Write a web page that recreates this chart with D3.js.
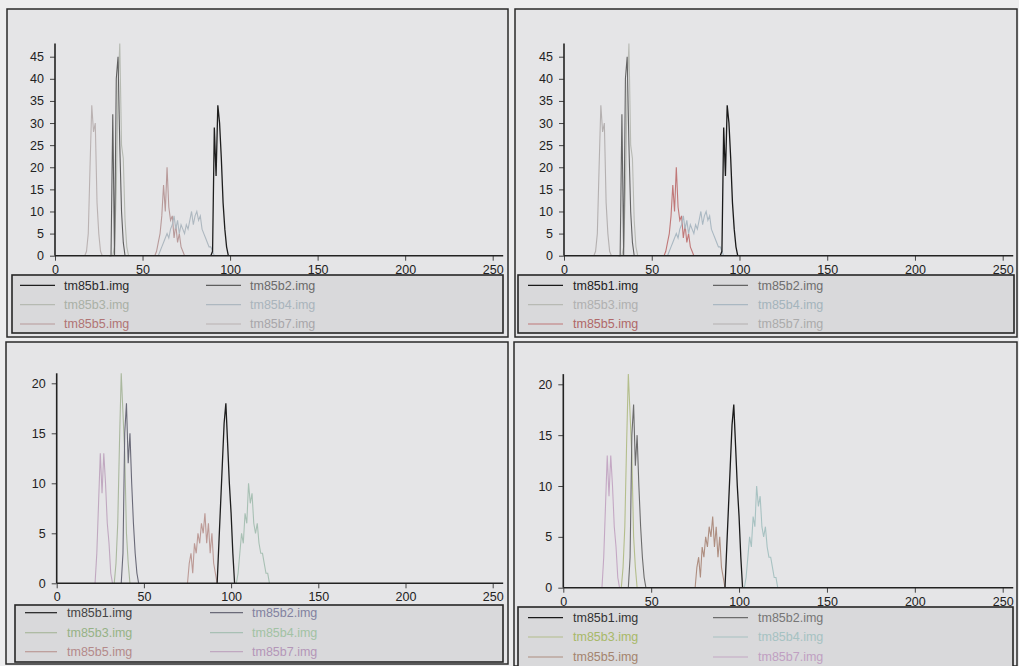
<!DOCTYPE html>
<html><head><meta charset="utf-8">
<script src="https://cdn.jsdelivr.net/npm/d3@7"></script>
<style>
html,body{margin:0;padding:0;background:#ededee;}
svg{display:block;}
text{font-family:"Liberation Sans",Arial,sans-serif;}
</style></head>
<body><svg id="c" width="1019" height="666"></svg>
<script>
// ---------- data ----------
const seriesNames = ["tm85b1.img","tm85b2.img","tm85b3.img","tm85b4.img","tm85b5.img","tm85b7.img"];
const xTicks = [0,50,100,150,200,250];
const yTicksTop = [0,5,10,15,20,25,30,35,40,45];
const yTicksBottom = [0,5,10,15,20];

// top pair of histograms: first bin value and counts
const topStarts = [89, 31, 33, 59, 57, 17];
const topB1 = [0,1,29,18,34,30,22,12,6,2,0];
const topB2 = [0,0,32,0,40,45,25,10,3,0];
const topB3 = [0,2,15,38,48,25,22,8,2,0];
const topB4 = [0,1,2,3,4,5,4,6,7,9,6,8,5,7,6,5,7,6,8,10,7,9,10,8,9,6,5,4,3,2,2,1,0];
const topB5 = [0,1,3,5,9,16,10,20,11,8,9,4,7,3,5,2,1,0];
const topB7 = [0,1,5,20,34,28,30,12,5,1,0];

// bottom pair of histograms
const botStarts = [92, 37, 33, 103, 75, 22];
const botB1 = [0,4,8,12,16,18,14,10,7,3,0];
const botB2 = [0,3,15,18,12,15,10,6,3,1,0];
const botB3 = [0,2,6,14,21,17,13,5,2,0];
const botB4 = [0,1,3,5,4,7,6,10,8,9,6,5,6,4,3,3,2,1,1,0];
const botB5 = [0,2,3,1,4,3,5,4,6,5,7,4,6,3,5,2,1,0];
const botB7 = [0,3,8,13,9,13,10,6,4,1,0];

const topValues = [topB1, topB2, topB3, topB4, topB5, topB7];
const botValues = [botB1, botB2, botB3, botB4, botB5, botB7];

// ---------- layout / style ----------
const panels = [
  {box:[7,9,501,328], x0:55, x250:492.7, y0:255.7, yRef:56.7, yRefV:45, yMax:48, yTicks:yTicksTop,
   starts:topStarts, values:topValues, leg:[12,275,491,58], legRows:[10.3,29.7,49], legCols:[[8,43,52],[194,229,238]],
   line:["#1e1e1e","#5e5e5e","#b6bab2","#aeb8c0","#b89a9a","#bab2b2"],
   txt:["#2a2a2a","#6a6a6a","#a9b0a6","#a9b4bc","#b07474","#a8a6aa"]},
  {box:[515,9,502,328], x0:564, x250:1002.7, y0:255.7, yRef:56.7, yRefV:45, yMax:48, yTicks:yTicksTop,
   starts:topStarts, values:topValues, leg:[518,275,496,58], legRows:[10.3,29.7,49], legCols:[[10,45,55],[195,230,240]],
   line:["#1a1a1a","#646464","#b8bab4","#aab8c2","#c07878","#b4b0b0"],
   txt:["#222222","#6e6e6e","#b0b0b0","#a4b4bc","#b06868","#ababab"]},
  {box:[6,342,502,322], x0:56.7, x250:492.7, y0:583.3, yRef:383.3, yRefV:20, yMax:21, yTicks:yTicksBottom,
   starts:botStarts, values:botValues, leg:[15,605,488,57], legRows:[7.7,27.7,46.7], legCols:[[10,42,52],[195,228,237]],
   line:["#1e1e1e","#6a6a78","#aab89e","#a8c0b4","#bc9a96","#c0a8c0"],
   txt:["#444444","#8282a0","#96b286","#a2c2a4","#b48a8a","#b496b8"]},
  {box:[514,342,503,324], x0:563.3, x250:1002.7, y0:587.7, yRef:384.3, yRefV:20, yMax:21, yTicks:yTicksBottom,
   starts:botStarts, values:botValues, leg:[518,607,495,60], legRows:[10.6,30,50], legCols:[[10,45,55],[195,230,240]],
   line:["#1a1a1a","#6c6c6c","#b4be8c","#a8c2c2","#ae8e80","#c4a8c4"],
   txt:["#333333","#767676","#a8b868","#a6c2c2","#a4846e","#c0a0c2"]}
];

const svg = d3.select("#c");
svg.append("rect").attr("width",1019).attr("height",666).attr("fill","#ededee");

panels.forEach(p => {
  const g = svg.append("g");
  g.append("rect").attr("x",p.box[0]).attr("y",p.box[1]).attr("width",p.box[2]).attr("height",p.box[3])
    .attr("fill","#e5e5e7").attr("stroke","#2a2a2a").attr("stroke-width",1.5);

  const x = d3.scaleLinear().domain([0,250]).range([p.x0,p.x250]);
  const y = d3.scaleLinear().domain([0,p.yRefV]).range([p.y0,p.yRef]);

  // series
  const lineGen = d3.line().x(d=>x(d[0])).y(d=>y(d[1]));
  const order = [5,4,3,2,1,0];
  order.forEach(i => {
    const pts = p.values[i].map((v,k)=>[p.starts[i]+k, v]);
    g.append("path").attr("d",lineGen(pts)).attr("fill","none")
      .attr("stroke",p.line[i]).attr("stroke-width",i===0?1.3:1.1);
  });

  // axes
  const xAxis = d3.axisBottom(x).tickValues(xTicks).tickSize(5).tickPadding(4).tickFormat(d3.format("d"));
  const xa = g.append("g").attr("transform",`translate(0,${p.y0})`).call(xAxis);
  xa.select(".domain").remove();
  xa.append("line").attr("x1",x(0)).attr("x2",x(256)).attr("stroke","#222").attr("stroke-width",1.6);
  const yAxis = d3.axisLeft(y).tickValues(p.yTicks).tickSize(5).tickPadding(6).tickFormat(d3.format("d"));
  const ya = g.append("g").attr("transform",`translate(${p.x0},0)`).call(yAxis);
  ya.select(".domain").remove();
  ya.append("line").attr("y1",y(0)).attr("y2",y(p.yMax)).attr("stroke","#222").attr("stroke-width",1.6);
  [xa,ya].forEach(a=>{
    a.selectAll(".tick line").attr("stroke","#444");
    a.selectAll(".tick text").attr("fill","#222").style("font-size","12.5px").style("font-family","'Liberation Sans',Arial,sans-serif");
  });

  // legend
  const L = p.leg;
  g.append("rect").attr("x",L[0]).attr("y",L[1]).attr("width",L[2]).attr("height",L[3])
    .attr("fill","#d9d9db").attr("stroke","#262626").attr("stroke-width",1.6);
  seriesNames.forEach((name,i) => {
    const col = p.legCols[i%2], row = p.legRows[Math.floor(i/2)];
    const yy = L[1]+row;
    g.append("line").attr("x1",L[0]+col[0]).attr("x2",L[0]+col[1]).attr("y1",yy).attr("y2",yy)
      .attr("stroke",p.line[i]).attr("stroke-width",1.2);
    g.append("text").attr("x",L[0]+col[2]).attr("y",yy).attr("dy","0.35em")
      .attr("fill",p.txt[i]).style("font-size","12.5px").text(name);
  });
});
</script></body></html>
